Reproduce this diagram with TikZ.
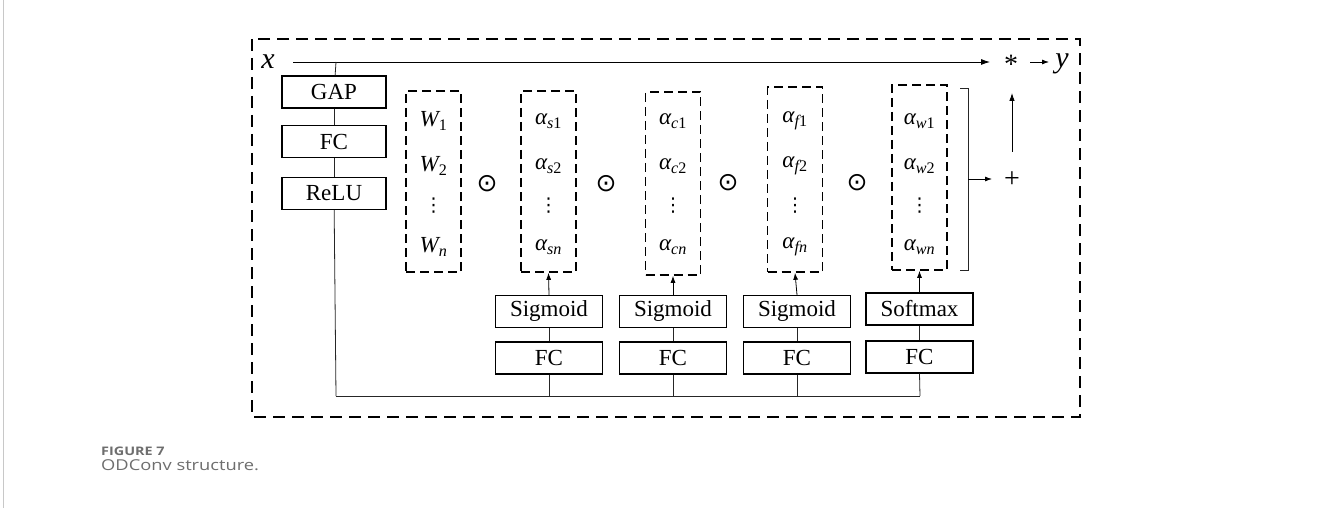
\documentclass[tikz,border=0pt]{standalone}
\usepackage{fontspec}
\setmainfont{Liberation Serif}
\newfontfamily\capfont[FakeStretch=1.22]{Open Sans}
\newfontfamily\symfont{DejaVu Sans}
\usetikzlibrary{arrows.meta}
\definecolor{capgray}{RGB}{110,110,110}
\definecolor{edgegray}{RGB}{200,200,200}
\newcommand{\ssub}[1]{\textsubscript{#1}}
\begin{document}
\begin{tikzpicture}[x=1pt,y=-1pt,
  solidbox/.style={draw,line width=1.4pt,minimum width=104pt,minimum height=32pt,inner sep=0pt,font=\fontsize{23}{25}\selectfont},
  vecbox/.style={draw,dashed,dash pattern=on 9pt off 5pt,line width=1.6pt,minimum width=55pt,minimum height=181pt,inner sep=0pt},
  entry/.style={inner sep=0pt,font=\fontsize{23}{25}\selectfont\itshape},
  vdotsty/.style={inner sep=0pt,font=\symfont\fontsize{19}{20}\selectfont},
  odotsty/.style={inner sep=0pt,font=\symfont\fontsize{25}{26}\selectfont},
  conn/.style={line width=0.8pt,draw=black!85},
  arr/.style={line width=0.8pt,-{Latex[length=9pt,width=6pt]}},
  sym/.style={inner sep=0pt,font=\fontsize{26}{28}\selectfont}
]
\useasboundingbox (0,0) rectangle (1328,508);
\fill[white] (0,0) rectangle (1328,508);
\draw[edgegray,line width=1pt] (3,0) -- (3,508);
% outer dashed frame
\draw[line width=1.8pt,dash pattern=on 12pt off 7pt] (252,39) rectangle (1080,417);
% input / output
\node[sym,font=\fontsize{30}{32}\selectfont\itshape] (x) at (268,62) {x};
\coordinate (xs) at (293,62);
\node[sym,anchor=base,font=\fontsize{28}{30}\selectfont] (star) at (1011,74) {*};
\coordinate (starin) at (990,62);
\node[sym,font=\fontsize{30}{32}\selectfont\itshape] (y) at (1062,64) {y};
\draw[arr] (xs) -- (starin);
\coordinate (ya) at (1030,62);
\coordinate (yb) at (1049,62);
\draw[arr,-{Latex[length=7pt,width=5pt]}] (ya) -- (yb);
% left branch
\node[solidbox] (gap) at (334,92) {GAP};
\node[solidbox] (fc0) at (334,141.5) {FC};
\node[solidbox] (relu) at (334,193.5) {ReLU};
\coordinate (tap) at (336,62);
\draw[conn] (tap) -- (gap);
\draw[conn] (gap) -- (fc0);
\draw[conn] (fc0) -- (relu);
\coordinate (bl) at (336,396);
\draw[conn] (relu) -- (bl);
% vector boxes
\node[vecbox] (wb) at (433.5,181.5) {};
\node[vecbox] (sb) at (548.5,181.5) {};
\node[vecbox,minimum height=183pt] (cb) at (673,183.5) {};
\node[vecbox,minimum height=185pt] (fb) at (795,179.5) {};
\node[vecbox,minimum height=185pt] (wwb) at (919.5,177.5) {};
% entries
\foreach \n/\cx/\a/\b/\c in {wb/433.5/W\ssub{\upshape 1}/W\ssub{\upshape 2}/W\ssub{n},
                          sb/548.5/α\ssub{s\upshape 1}/α\ssub{s\upshape 2}/α\ssub{sn},
                          cb/673/α\ssub{c\upshape 1}/α\ssub{c\upshape 2}/α\ssub{cn},
                          fb/795/α\ssub{f\upshape 1}/α\ssub{f\upshape 2}/α\ssub{fn},
                          wwb/919.5/α\ssub{w\upshape 1}/α\ssub{w\upshape 2}/α\ssub{wn}}{
  \node[entry] (\n1) at (\cx,121) {\a};
  \node[entry] (\n2) at (\cx,166) {\b};
  \node[vdotsty] (\n3) at (\cx,206) {⋮};
  \node[entry] (\n4) at (\cx,247) {\c};
}
% odot operators
\node[odotsty] (o1) at (487,184) {⊙};
\node[odotsty] (o2) at (606,184) {⊙};
\node[odotsty] (o3) at (728,183) {⊙};
\node[odotsty] (o4) at (857,183) {⊙};
% gating branches
\foreach \n/\cx/\lab/\yy in {s/549/Sigmoid/311.5, c/673/Sigmoid/311.5, f/797/Sigmoid/311.5, w/919.5/Softmax/309}{
  \node[solidbox,minimum width=107pt] (act\n) at (\cx,\yy) {\lab};
}
\node[solidbox,minimum width=107pt] (fcs) at (549,358) {FC};
\node[solidbox,minimum width=107pt] (fcc) at (673,358) {FC};
\node[solidbox,minimum width=107pt] (fcf) at (797,358) {FC};
\node[solidbox,minimum width=107pt] (fcw) at (919.5,357) {FC};
\draw[conn] (fcs) -- (acts);
\draw[conn] (fcc) -- (actc);
\draw[conn] (fcf) -- (actf);
\draw[conn] (fcw) -- (actw);
\draw[arr,-{Latex[length=7pt,width=5pt]}] (acts.north) -- (sb.south);
\draw[arr,-{Latex[length=7pt,width=5pt]}] (actc.north) -- (cb.south);
\draw[arr,-{Latex[length=7pt,width=5pt]}] (actf.north) -- (fb.south);
\draw[arr,-{Latex[length=7pt,width=5pt]}] (actw.north) -- (wwb.south);
% bottom bus
\coordinate (br) at (920,396);
\draw[conn] (bl) -- (br);
\draw[conn] (fcs.south) -- (fcs.south |- bl);
\draw[conn] (fcc.south) -- (fcc.south |- bl);
\draw[conn] (fcf.south) -- (fcf.south |- bl);
\draw[conn] (fcw.south) -- (br);
% bracket and sum
\coordinate (bt) at (968,88);
\coordinate (bb) at (968,270);
\coordinate (bm) at (968,179);
\draw[conn] (960,88) -- (bt) -- (bb) -- (960,270);
\node[sym,font=\fontsize{28}{30}\selectfont] (plus) at (1012,180) {+};
\coordinate (pin) at (992,179);
\draw[arr,-{Latex[length=7pt,width=5pt]}] (bm) -- (pin);
\coordinate (up0) at (1012,152);
\coordinate (up1) at (1012,93);
\draw[arr,-{Latex[length=8pt,width=5.5pt]}] (up0) -- (up1);
% caption
\node[anchor=base west,inner sep=0pt,text=capgray,font=\capfont\bfseries\fontsize{11.8}{13}\selectfont] (cap1) at (101,455) {FIGURE 7};
\node[anchor=base west,inner sep=0pt,text=capgray,font=\capfont\fontsize{15}{17}\selectfont] (cap2) at (101,470.5) {ODConv structure.};
\end{tikzpicture}
\end{document}
